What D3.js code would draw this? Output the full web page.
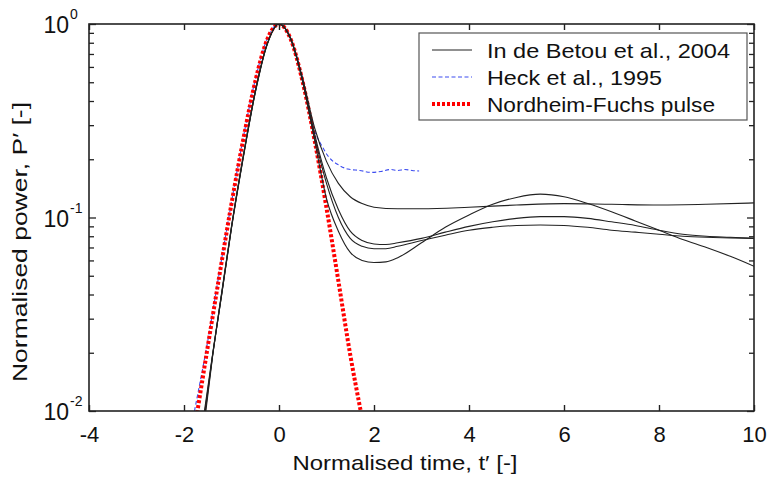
<!DOCTYPE html>
<html>
<head>
<meta charset="utf-8">
<script src="https://cdn.jsdelivr.net/npm/d3@7"></script>
<style>
  html, body { margin: 0; padding: 0; background: #fff; }
  text { font-family: "Liberation Sans", Arial, sans-serif; fill: #111; }
</style>
</head>
<body>
<svg id="chart" width="768" height="480"></svg>
<script>
// ---- Data ----
const xTicks = [-4, -2, 0, 2, 4, 6, 8, 10];
const yMajor = [0.01, 0.1, 1];
const yMajorExp = ["-2", "-1", "0"];

const legendLabels = ["In de Betou et al., 2004", "Heck et al., 1995", "Nordheim-Fuchs pulse"];

// In de Betou et al., 2004 — four measured curves
const betouT1 = [-1.57, -1.4, -1.2, -1.0, -0.75, -0.5, -0.25, 0, 0.25, 0.5, 0.75, 1.0, 1.25, 1.5, 1.75, 2.0, 2.5, 3, 4, 5, 6, 7, 8, 9, 10];
const betouP1 = [0.01, 0.0195, 0.042, 0.09, 0.21, 0.45, 0.79, 1.0, 0.84, 0.52, 0.29, 0.195, 0.15, 0.128, 0.118, 0.113, 0.111, 0.111, 0.113, 0.116, 0.118, 0.117, 0.116, 0.117, 0.119];

const betouT2 = [-1.54, -1.4, -1.2, -1.0, -0.75, -0.5, -0.25, 0, 0.25, 0.5, 0.75, 1.0, 1.25, 1.5, 1.75, 2.0, 2.25, 2.5, 3.0, 3.5, 4, 4.5, 5, 5.5, 6, 6.5, 7, 7.5, 8, 8.5, 9, 9.5, 10];
const betouP2 = [0.01, 0.019, 0.041, 0.088, 0.205, 0.44, 0.78, 1.0, 0.83, 0.5, 0.25, 0.125, 0.085, 0.066, 0.06, 0.0585, 0.059, 0.062, 0.074, 0.089, 0.103, 0.117, 0.127, 0.132, 0.128, 0.118, 0.107, 0.096, 0.086, 0.077, 0.07, 0.063, 0.056];

const betouT3 = [-1.56, -1.4, -1.2, -1.0, -0.75, -0.5, -0.25, 0, 0.25, 0.5, 0.75, 1.0, 1.25, 1.5, 1.75, 2.0, 2.25, 2.5, 3.0, 3.5, 4, 4.5, 5, 5.5, 6, 6.5, 7, 7.5, 8, 8.5, 9, 9.5, 10];
const betouP3 = [0.01, 0.0193, 0.0415, 0.089, 0.208, 0.445, 0.785, 1.0, 0.835, 0.51, 0.27, 0.16, 0.11, 0.085, 0.076, 0.073, 0.0725, 0.074, 0.078, 0.084, 0.09, 0.095, 0.099, 0.101, 0.101, 0.099, 0.095, 0.091, 0.086, 0.082, 0.08, 0.079, 0.078];

const betouT4 = [-1.55, -1.4, -1.2, -1.0, -0.75, -0.5, -0.25, 0, 0.25, 0.5, 0.75, 1.0, 1.25, 1.5, 1.75, 2.0, 2.25, 2.5, 3.0, 3.5, 4, 4.5, 5, 5.5, 6, 6.5, 7, 7.5, 8, 8.5, 9, 9.5, 10];
const betouP4 = [0.01, 0.0192, 0.041, 0.089, 0.207, 0.445, 0.785, 1.0, 0.83, 0.505, 0.26, 0.15, 0.1, 0.078, 0.071, 0.069, 0.069, 0.071, 0.076, 0.081, 0.086, 0.089, 0.091, 0.0915, 0.091, 0.089, 0.086, 0.084, 0.082, 0.08, 0.079, 0.0785, 0.078];

// Heck et al., 1995
const heckT = [-1.78, -1.5, -1.25, -1.0, -0.75, -0.5, -0.25, 0, 0.25, 0.5, 0.75, 0.9, 1.05, 1.25, 1.45, 1.7, 1.95, 2.15, 2.35, 2.5, 2.65, 2.8, 2.95];
const heckP = [0.01, 0.023, 0.053, 0.12, 0.26, 0.515, 0.84, 1.0, 0.84, 0.52, 0.28, 0.235, 0.205, 0.187, 0.178, 0.175, 0.171, 0.173, 0.177, 0.175, 0.177, 0.175, 0.174];

// Nordheim-Fuchs pulse
const nfT = [-1.74, -1.5, -1.25, -1.0, -0.75, -0.5, -0.25, 0, 0.25, 0.5, 0.75, 1.0, 1.25, 1.5, 1.72];
const nfP = [0.0092, 0.0215, 0.051, 0.118, 0.255, 0.505, 0.83, 1.0, 0.83, 0.5, 0.25, 0.112, 0.047, 0.0195, 0.01];

// ---- Chart ----
const svg = d3.select("#chart");
const L = 89, R = 754, T = 24, B = 411;
const x = d3.scaleLinear().domain([-4, 10]).range([L, R]);
const y = d3.scaleLog().domain([0.01, 1]).range([B, T]);

svg.append("defs").append("clipPath").attr("id", "clip")
  .append("rect").attr("x", L).attr("y", T).attr("width", R - L).attr("height", B - T);

const zip = (ts, ps) => ts.map((t, i) => [t, ps[i]]);
const line = d3.line().x(d => x(d[0])).y(d => y(d[1])).curve(d3.curveMonotoneX);

const plot = svg.append("g").attr("clip-path", "url(#clip)");

// Heck (blue dashed)
plot.append("path").attr("d", line(zip(heckT, heckP)))
  .attr("fill", "none").attr("stroke", "#3c4cf0").attr("stroke-width", 1.1)
  .attr("stroke-dasharray", "4,2.5");

// Nordheim-Fuchs (red dotted)
plot.append("path").attr("d", line(zip(nfT, nfP)))
  .attr("fill", "none").attr("stroke", "#ff0000").attr("stroke-width", 4)
  .attr("stroke-dasharray", "3,2");

// In de Betou (black)
[[betouT1, betouP1], [betouT2, betouP2], [betouT3, betouP3], [betouT4, betouP4]].forEach(([ts, ps]) => {
  plot.append("path").attr("d", line(zip(ts, ps)))
    .attr("fill", "none").attr("stroke", "#222").attr("stroke-width", 1.1);
});

// Frame
svg.append("rect").attr("x", L).attr("y", T).attr("width", R - L).attr("height", B - T)
  .attr("fill", "none").attr("stroke", "#222").attr("stroke-width", 1.6);

// X axis (ticks inward, bottom and top)
const xAxisB = d3.axisBottom(x).tickValues(xTicks).tickSizeInner(-6).tickSizeOuter(0).tickPadding(15);
const gxb = svg.append("g").attr("transform", `translate(0,${B})`).call(xAxisB);
gxb.select(".domain").remove();
gxb.selectAll("line").attr("stroke", "#222").attr("stroke-width", 1.4);
gxb.selectAll("text").attr("font-size", 22).attr("fill", "#111")
  .style("font-family", "'Liberation Sans', Arial, sans-serif")
  .text(d => d < 0 ? "-" + Math.abs(d) : String(d));

const xAxisT = d3.axisTop(x).tickValues(xTicks).tickSizeInner(-6).tickSizeOuter(0).tickFormat("");
const gxt = svg.append("g").attr("transform", `translate(0,${T})`).call(xAxisT);
gxt.select(".domain").remove();
gxt.selectAll("line").attr("stroke", "#222").attr("stroke-width", 1.4);

// Y axis minor + major ticks, inward on left and right
const yTickVals = y.ticks();
const yAxisL = d3.axisLeft(y).tickValues(yTickVals).tickSizeOuter(0).tickFormat("");
const gyl = svg.append("g").attr("transform", `translate(${L},0)`).call(yAxisL);
gyl.select(".domain").remove();
gyl.selectAll(".tick line").attr("x2", d => yMajor.includes(d) ? 7 : 5).attr("stroke", "#222").attr("stroke-width", 1.3);

const yAxisR = d3.axisRight(y).tickValues(yTickVals).tickSizeOuter(0).tickFormat("");
const gyr = svg.append("g").attr("transform", `translate(${R},0)`).call(yAxisR);
gyr.select(".domain").remove();
gyr.selectAll(".tick line").attr("x2", d => yMajor.includes(d) ? -7 : -5).attr("stroke", "#222").attr("stroke-width", 1.3);

// Y tick labels as 10^n
yMajor.forEach((v, i) => {
  const g = svg.append("g");
  g.append("text").attr("x", 69).attr("y", y(v) + 9).attr("text-anchor", "end")
    .attr("font-size", 23).text("10");
  g.append("text").attr("x", 70).attr("y", y(v) - 5).attr("text-anchor", "start")
    .attr("font-size", 14).text(yMajorExp[i]);
});

// Axis titles
svg.append("text").attr("x", 405).attr("y", 470).attr("text-anchor", "middle")
  .attr("font-size", 21).attr("textLength", 225).attr("lengthAdjust", "spacingAndGlyphs")
  .text("Normalised time, t\u2032 [-]");

svg.append("text").attr("transform", "translate(27,242) rotate(-90)").attr("text-anchor", "middle")
  .attr("font-size", 21).attr("textLength", 280).attr("lengthAdjust", "spacingAndGlyphs")
  .text("Normalised power, P\u2032 [-]");

// Legend
const lg = svg.append("g");
lg.append("rect").attr("x", 419).attr("y", 33).attr("width", 328).attr("height", 87)
  .attr("fill", "#fff").attr("stroke", "#555").attr("stroke-width", 1.2);
const legendStyles = [
  { stroke: "#222", width: 1.1, dash: null },
  { stroke: "#3c4cf0", width: 1.1, dash: "4,2.5" },
  { stroke: "#ff0000", width: 4, dash: "3,2" }
];
const legendLens = [243, 175, 228];
legendLabels.forEach((lab, i) => {
  const cy = 50 + i * 27;
  lg.append("line").attr("x1", 432).attr("x2", 472).attr("y1", cy).attr("y2", cy)
    .attr("stroke", legendStyles[i].stroke).attr("stroke-width", legendStyles[i].width)
    .attr("stroke-dasharray", legendStyles[i].dash);
  lg.append("text").attr("x", 487).attr("y", cy + 7.5).attr("font-size", 21)
    .attr("textLength", legendLens[i]).attr("lengthAdjust", "spacingAndGlyphs").text(lab);
});
</script>
</body>
</html>
